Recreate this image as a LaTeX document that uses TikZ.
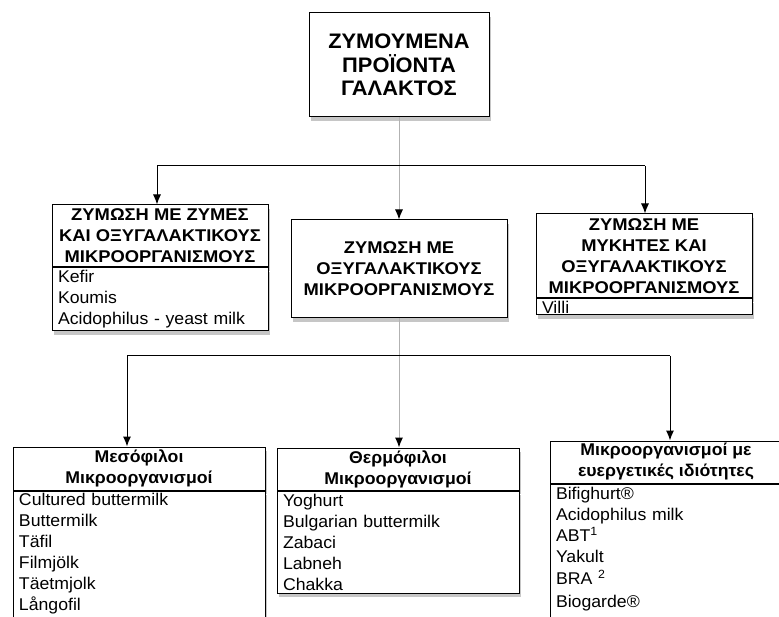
\documentclass[tikz,border=0pt]{standalone}
\usepackage{fontspec}
\setmainfont[FakeStretch=1.04]{Liberation Sans}
\newfontfamily\capsfont[FakeStretch=1.08]{Liberation Sans}
\usetikzlibrary{shadows,arrows.meta}

\begin{document}
\begin{tikzpicture}[x=1pt,y=-1pt]
  \tikzstyle{box} = [draw, line width=1pt, fill=white, inner xsep=6pt,
  inner ysep=0pt, drop shadow={shadow xshift=2pt,shadow yshift=-4pt,opacity=0.45}]
  \tikzstyle{hdrbox} = [box, align=center, font=\fontsize{17}{21}\selectfont\bfseries]
  \tikzstyle{capsbox} = [hdrbox, inner xsep=2pt, font=\capsfont\fontsize{17}{21}\selectfont\bfseries]
  \tikzstyle{itembox} = [box, align=left, anchor=north, font=\fontsize{17}{21}\selectfont]
  \tikzstyle{conn} = [line width=1pt]
  \tikzset{>={Latex[length=10pt,width=8pt,color=black]}}
  \useasboundingbox (0,0) rectangle (779,617);
  % top
  \node[box, align=center, font=\fontsize{21}{23.5}\selectfont\bfseries,
  minimum width=180pt, minimum height=104pt] (prod) at (399,65)
  {ΖΥΜΟΥΜΕΝΑ\\ΠΡΟΪΟΝΤΑ\\ΓΑΛΑΚΤΟΣ};
  % second row
  \node[capsbox, minimum width=216pt, minimum height=62pt] (yeast) at (160,236)
  {ΖΥΜΩΣΗ ΜΕ ΖΥΜΕΣ\\ΚΑΙ ΟΞΥΓΑΛΑΚΤΙΚΟΥΣ\\ΜΙΚΡΟΟΡΓΑΝΙΣΜΟΥΣ};
  \node[itembox, text width=204pt, minimum height=63pt] (yeastl) at (yeast.south)
  {Kefir\\Koumis\\Acidophilus - yeast milk};
  \node[capsbox, minimum width=216pt, minimum height=98pt] (lactic) at (399,269)
  {ΖΥΜΩΣΗ ΜΕ\\ΟΞΥΓΑΛΑΚΤΙΚΟΥΣ\\ΜΙΚΡΟΟΡΓΑΝΙΣΜΟΥΣ};
  \node[capsbox, minimum width=216pt, minimum height=84pt] (fungi) at (644,256)
  {ΖΥΜΩΣΗ ΜΕ\\ΜΥΚΗΤΕΣ ΚΑΙ\\ΟΞΥΓΑΛΑΚΤΙΚΟΥΣ\\ΜΙΚΡΟΟΡΓΑΝΙΣΜΟΥΣ};
  \node[itembox, text width=204pt, minimum height=16pt] (fungil) at (fungi.south)
  {Villi};
  % third row
  \node[hdrbox, minimum width=252pt, minimum height=43pt] (meso) at (139,468.5)
  {Μεσόφιλοι\\Μικροοργανισμοί};
  \node[itembox, text width=240pt, minimum height=126pt] (mesol) at (meso.south)
  {Cultured buttermilk\\Buttermilk\\Täfil\\Filmjölk\\Täetmjolk\\Långofil};
  \node[hdrbox, minimum width=242pt, minimum height=42pt] (thermo) at (398,469)
  {Θερμόφιλοι\\Μικροοργανισμοί};
  \node[itembox, text width=230pt, minimum height=102pt] (thermol) at (thermo.south)
  {Yoghurt\\Bulgarian buttermilk\\Zabaci\\Labneh\\Chakka};
  \node[hdrbox, minimum width=232pt, minimum height=42pt] (probio) at (666,462)
  {Μικροοργανισμοί με\\ευεργετικές ιδιότητες};
  \node[itembox, text width=220pt, inner ysep=3pt, text depth=135pt] (probiol) at (probio.south)
  {Bifighurt®\\Acidophilus milk\\ABT\textsuperscript{1}\\Yakult\\[1pt]BRA \textsuperscript{2}\\[2pt]Biogarde®};
  % connectors
  \coordinate (jl) at (157,166); \coordinate (jr) at (645,166);
  \coordinate (kl) at (127,356); \coordinate (kr) at (670,356);
  \draw[conn, gray!60, ->] (prod.south) -- (lactic.north);
  \draw[conn] (jl) -- (jr);
  \draw[conn, ->] (jl) -- (jl |- yeast.north);
  \draw[conn, ->] (jr) -- (jr |- fungi.north);
  \draw[conn, gray!60, ->] (lactic.south) -- (lactic.south |- thermo.north);
  \draw[conn] (kl) -- (kr);
  \draw[conn, ->] (kl) -- (kl |- meso.north);
  \draw[conn, ->] (kr) -- (kr |- probio.north);
\end{tikzpicture}
\end{document}
